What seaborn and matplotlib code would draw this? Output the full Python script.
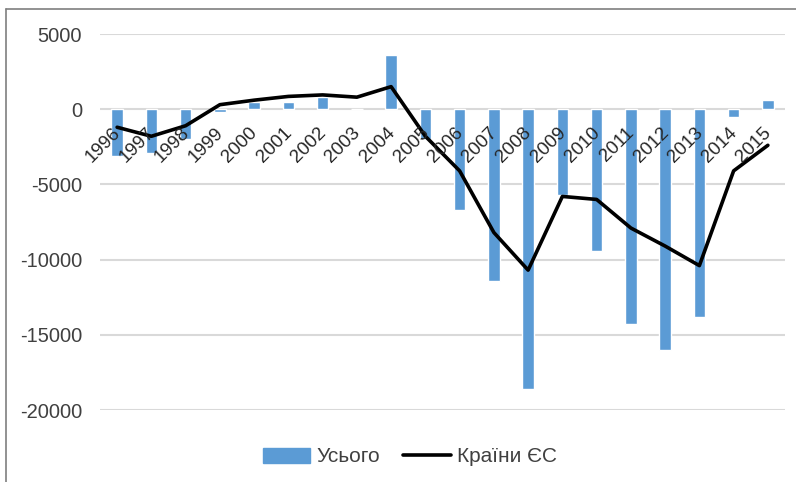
import pandas as pd
import numpy as np
import seaborn as sns
import matplotlib.pyplot as plt
from matplotlib.lines import Line2D

# values
years = [str(y) for y in range(1996, 2016)]
total = [-3100, -2900, -2000, -200, 500, 500, 800, 0, 3600, -2000,
         -6700, -11400, -18600, -5700, -9400, -14300, -16000, -13800, -500, 600]
eu = [-1200, -1800, -1100, 300, 600, 850, 950, 800, 1500, -1800,
      -4100, -8200, -10700, -5800, -6000, -7900, -9100, -10400, -4100, -2400]
y_ticks = [5000, 0, -5000, -10000, -15000, -20000]

df = pd.DataFrame({'year': years, 'total': total, 'eu': eu})

sns.set_style('white')
plt.rcParams['font.family'] = ['Liberation Sans', 'DejaVu Sans']

fig = plt.figure(figsize=(7.96, 4.82), dpi=100)
ax = fig.add_axes([100 / 796, 72 / 482, 685 / 796, 376 / 482])

sns.barplot(data=df, x='year', y='total', color='#5B9BD5', width=0.34,
            saturation=1, ax=ax, zorder=2)
sns.lineplot(x=np.arange(len(years)), y=df['eu'], color='black', lw=2.6,
             ax=ax, zorder=3)

ax.set_xlim(-0.5, len(years) - 0.5)
ax.set_ylim(-20000, 5000)
ax.set_yticks(y_ticks)
ax.set_yticklabels([str(t) for t in y_ticks], fontsize=14.5, color='#404040')
ax.tick_params(axis='y', length=0, pad=13)
ax.set_xticks([])
ax.set_xlabel('')
ax.set_ylabel('')
ax.grid(axis='y', color='#d9d9d9', lw=1.5, zorder=0)
ax.set_axisbelow(True)
for s in ax.spines.values():
    s.set_visible(False)

# year labels sit on the zero line, rotated like in Excel
for i, yr in enumerate(years):
    ax.text(i - 0.15, -1000, yr, rotation=45, rotation_mode='anchor',
            ha='right', va='top', fontsize=13.5, color='#262626', zorder=4)

handles = [plt.Rectangle((0, 0), 1, 1, color='#5B9BD5'),
           Line2D([0], [0], color='black', lw=2.6)]
fig.legend(handles, ['Усього', 'Країни ЄС'], loc='center',
           bbox_to_anchor=(410 / 796, 1 - 457 / 482), ncol=2, frameon=False,
           fontsize=15, handlelength=2.3, handletextpad=0.3,
           columnspacing=1.1, labelcolor='#404040')

# thin frame on the left and top edges
fig.add_artist(Line2D([6 / 796, 6 / 796], [0, 1 - 9 / 482], color='#7f7f7f',
                      lw=1.2, transform=fig.transFigure))
fig.add_artist(Line2D([6 / 796, 1], [1 - 9 / 482, 1 - 9 / 482], color='#7f7f7f',
                      lw=1.2, transform=fig.transFigure))

fig.savefig('out.png', dpi=100)
